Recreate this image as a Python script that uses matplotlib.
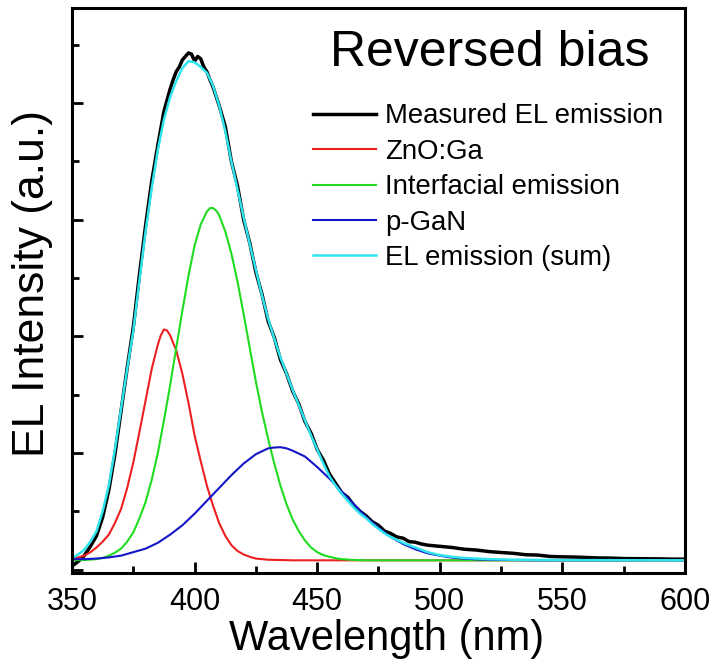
"""
EL spectrum under reversed bias with Gaussian deconvolution
"""
import matplotlib
matplotlib.use("Agg")
import matplotlib.pyplot as plt
from matplotlib.ticker import MultipleLocator

plt.rcParams['font.family'] = ['Liberation Sans', 'DejaVu Sans']

# Measured EL spectrum (a.u.)
wl_meas = [350, 352.5, 355, 357.5, 360, 362.5, 365, 367.5, 370, 372.5, 375, 377.5,
           380, 382.5, 385, 387.5, 390, 391.25, 392.5, 393.75, 395, 396.25, 397.5,
           398.75, 400, 401.25, 402.5, 403.75, 405, 406.25, 407.5, 410, 412.5, 415,
           417.5, 420, 422.5, 425, 427.5, 430, 432.5, 435, 437.5, 440, 442.5, 445,
           447.5, 450, 452.5, 455, 457.5, 460, 462.5, 465, 467.5, 470, 472.5, 475,
           477.5, 480, 482.5, 485, 487.5, 490, 492.5, 495, 497.5, 500, 505, 510, 515,
           520, 525, 530, 535, 540, 545, 550, 555, 560, 565, 570, 575, 580, 585, 590,
           595, 600]
el_meas = [0.03, 0.07, 0.12, 0.20, 0.29, 0.45, 0.68, 0.99, 1.36, 1.73, 2.08, 2.53,
           2.95, 3.33, 3.64, 3.93, 4.12, 4.20, 4.27, 4.31, 4.37, 4.40, 4.43,
           4.42, 4.36, 4.40, 4.38, 4.31, 4.27, 4.20, 4.14, 3.98, 3.80, 3.50,
           3.29, 3.00, 2.80, 2.55, 2.36, 2.13, 1.99, 1.80, 1.68, 1.53, 1.42, 1.27,
           1.17, 1.03, 0.94, 0.82, 0.74, 0.66, 0.62, 0.55, 0.50, 0.46, 0.41, 0.38,
           0.33, 0.31, 0.28, 0.27, 0.24, 0.235, 0.22, 0.21, 0.205, 0.20, 0.19, 0.175, 0.168,
           0.155, 0.147, 0.14, 0.128, 0.125, 0.113, 0.11, 0.108, 0.104, 0.10, 0.099, 0.095,
           0.094, 0.093, 0.092, 0.09, 0.09]

# ZnO:Ga component
wl_zno = [350, 352.5, 355, 357.5, 360, 362.5, 365, 367.5, 370, 372.5, 375, 377.5,
          380, 382.5, 385, 386.25, 387.5, 388.75, 390, 392.5, 395, 397.5, 400,
          402.5, 405, 407.5, 410, 412.5, 415, 417.5, 420, 422.5, 425, 430, 440, 600]
el_zno = [0.09, 0.105, 0.12, 0.15, 0.19, 0.24, 0.30, 0.40, 0.52, 0.70, 0.92, 1.18,
          1.45, 1.72, 1.93, 2.01, 2.06, 2.05, 2.01, 1.88, 1.68, 1.43, 1.15,
          0.93, 0.72, 0.55, 0.40, 0.29, 0.21, 0.16, 0.13, 0.11, 0.095, 0.085, 0.08, 0.08]

# Interfacial emission component
wl_int = [350, 352.5, 355, 357.5, 360, 362.5, 365, 367.5, 370, 372.5, 375, 377.5,
          380, 382.5, 385, 387.5, 390, 392.5, 395, 397.5, 400, 402.5, 405, 406.25,
          407.5, 408.75, 410, 412.5, 415, 417.5, 420, 422.5, 425, 427.5, 430, 432.5,
          435, 437.5, 440, 442.5, 445, 447.5, 450, 452.5, 455, 457.5, 460, 465, 470, 600]
el_int = [0.08, 0.082, 0.083, 0.086, 0.09, 0.10, 0.12, 0.145, 0.18, 0.24, 0.32, 0.44,
          0.58, 0.77, 1.00, 1.28, 1.58, 1.90, 2.22, 2.52, 2.78, 2.96, 3.07, 3.10,
          3.10, 3.08, 3.04, 2.90, 2.71, 2.47, 2.19, 1.90, 1.61, 1.35, 1.12, 0.91,
          0.72, 0.56, 0.43, 0.33, 0.25, 0.19, 0.15, 0.125, 0.11, 0.098, 0.09, 0.083, 0.08, 0.08]

# p-GaN component
wl_gan = [350, 355, 360, 365, 370, 375, 380, 385, 390, 395, 400, 405, 410, 415,
          420, 425, 430, 432.5, 435, 437.5, 440, 445, 450, 455, 460, 465, 470, 475,
          480, 485, 490, 495, 500, 505, 510, 515, 520, 530, 540, 600]
el_gan = [0.09, 0.09, 0.095, 0.105, 0.12, 0.15, 0.18, 0.23, 0.30, 0.38, 0.48,
          0.59, 0.70, 0.81, 0.91, 0.99, 1.04, 1.047, 1.05, 1.04, 1.02, 0.97, 0.88,
          0.78, 0.67, 0.56, 0.45, 0.36, 0.28, 0.22, 0.175, 0.14, 0.12, 0.103, 0.094,
          0.088, 0.085, 0.082, 0.08, 0.08]

# Fitted sum
wl_sum = [350, 352.5, 355, 357.5, 360, 362.5, 365, 367.5, 370, 372.5, 375, 377.5,
          380, 382.5, 385, 387.5, 390, 392.5, 395, 397.5, 400, 402.5, 405, 407.5,
          410, 412.5, 415, 417.5, 420, 422.5, 425, 427.5, 430, 432.5, 435, 437.5,
          440, 442.5, 445, 447.5, 450, 452.5, 455, 457.5, 460, 462.5, 465, 467.5,
          470, 472.5, 475, 477.5, 480, 485, 490, 495, 500, 505, 510, 520, 530,
          550, 600]
el_sum = [0.10, 0.13, 0.17, 0.24, 0.33, 0.50, 0.72, 1.03, 1.38, 1.72, 2.05, 2.48,
          2.90, 3.27, 3.60, 3.86, 4.05, 4.19, 4.30, 4.36, 4.35, 4.31, 4.26, 4.15,
          3.98, 3.76, 3.50, 3.26, 3.02, 2.79, 2.57, 2.35, 2.15, 1.98, 1.82, 1.68,
          1.54, 1.41, 1.28, 1.15, 1.03, 0.91, 0.80, 0.72, 0.65, 0.59, 0.53, 0.48,
          0.44, 0.39, 0.35, 0.31, 0.28, 0.23, 0.19, 0.15, 0.125, 0.11, 0.10, 0.09,
          0.085, 0.082, 0.08]

labels = ['Measured EL emission', 'ZnO:Ga', 'Interfacial emission', 'p-GaN',
          'EL emission (sum)']
colors = ['black', '#ec2020', '#20dc20', '#1515c8', '#30e4ee']

fig = plt.figure(figsize=(7.13, 6.63), dpi=100)
ax = fig.add_axes([0.101, 0.1357, 0.8597, 0.8523])

ax.plot(wl_meas, el_meas, color=colors[0], lw=2.5, label=labels[0])
ax.plot(wl_zno, el_zno, color=colors[1], lw=1.5, label=labels[1])
ax.plot(wl_int, el_int, color=colors[2], lw=1.5, label=labels[2])
ax.plot(wl_gan, el_gan, color=colors[3], lw=1.5, label=labels[3])
ax.plot(wl_sum, el_sum, color=colors[4], lw=1.8, label=labels[4])

ax.set_xlim(350, 600)
ax.set_ylim(-0.029, 4.816)
ax.xaxis.set_major_locator(MultipleLocator(50))
ax.xaxis.set_minor_locator(MultipleLocator(25))
ax.yaxis.set_major_locator(MultipleLocator(1))
ax.yaxis.set_minor_locator(MultipleLocator(0.5))
ax.tick_params(which='both', direction='in', top=False, right=False, width=2)
ax.tick_params(which='major', length=8)
ax.tick_params(which='minor', length=5)
ax.tick_params(axis='x', labelsize=22, pad=10)
ax.tick_params(axis='y', labelleft=False)
for s in ax.spines.values():
    s.set_linewidth(2.2)

ax.set_xlabel('Wavelength (nm)', fontsize=30)
ax.xaxis.set_label_coords(0.513, -0.082)
ax.set_ylabel('EL Intensity (a.u.)', fontsize=32)
ax.yaxis.set_label_coords(-0.031, 0.5115)

# legend title drawn as plain text, entries below it
ax.text(0.682, 0.8973, 'Reversed bias', transform=ax.transAxes, fontsize=36,
        ha='center', va='baseline')
leg = ax.legend(loc='upper right', bbox_to_anchor=(0.965, 0.831), frameon=False,
                fontsize=19.8, handlelength=2.3, handletextpad=0.35,
                labelspacing=0.34, borderpad=0, borderaxespad=0)

fig.savefig('out.png', dpi=100)
